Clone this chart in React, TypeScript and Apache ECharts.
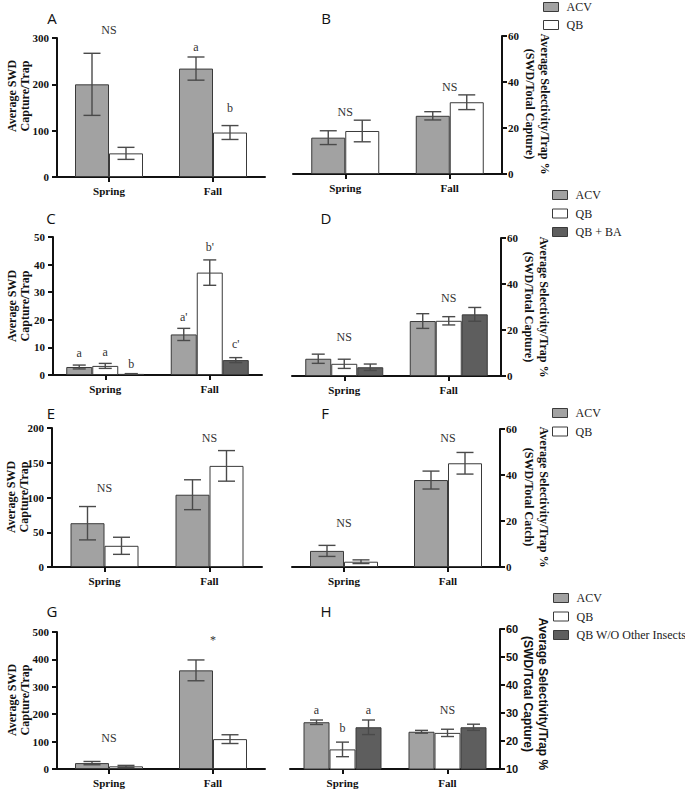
import React, { useEffect, useRef } from 'react';
import * as echarts from 'echarts';

// ---------- DATA ----------
const seasons = ['Spring', 'Fall'];

// Panel A – Average SWD capture / trap
const aACV = [200, 234];
const aACVse = [67, 25];
const aQB = [51, 96];
const aQBse = [13, 15];
const aTicks = [0, 100, 200, 300];

// Panel B – selectivity %
const bACV = [15.8, 25.3];
const bACVse = [3.0, 1.8];
const bQB = [18.7, 31.2];
const bQBse = [4.7, 3.2];
const bTicks = [0, 20, 40, 60];

// Panel C
const cACV = [2.9, 14.7];
const cACVse = [0.7, 2.2];
const cQB = [3.3, 37.1];
const cQBse = [0.9, 4.6];
const cBA = [0.4, 5.4];
const cBAse = [0.1, 0.9];
const cTicks = [0, 10, 20, 30, 40, 50];

// Panel D
const dACV = [7.5, 23.9];
const dACVse = [2.0, 3.2];
const dQB = [5.3, 24.0];
const dQBse = [2.0, 1.8];
const dBA = [3.8, 26.8];
const dBAse = [1.4, 3.0];
const dTicks = [0, 20, 40, 60];

// Panel E
const eACV = [63, 104];
const eACVse = [24, 21.5];
const eQB = [30.5, 145.5];
const eQBse = [12.3, 22];
const eTicks = [0, 50, 100, 150, 200];

// Panel F
const fACV = [7.0, 37.8];
const fACVse = [2.4, 3.9];
const fQB = [2.3, 45.1];
const fQBse = [0.8, 4.7];
const fTicks = [0, 20, 40, 60];

// Panel G
const gACV = [21.5, 360];
const gACVse = [6, 38];
const gQB = [9.7, 109];
const gQBse = [3.5, 16];
const gTicks = [0, 100, 200, 300, 400, 500];

// Panel H
const hACV = [26.7, 23.3];
const hACVse = [0.8, 0.5];
const hQB = [17.0, 22.9];
const hQBse = [2.6, 1.3];
const hWO = [24.9, 24.9];
const hWOse = [2.6, 1.1];
const hTicks = [10, 20, 30, 40, 50, 60];

// Annotations: category index, bar index (-1 = group centre), y value, label
const aNotes = [
  { cat: 0, bar: -1, y: 318, text: 'NS' },
  { cat: 1, bar: 0, y: 280, text: 'a' },
  { cat: 1, bar: 1, y: 149, text: 'b' },
];
const bNotes = [
  { cat: 0, bar: -1, y: 27, text: 'NS' },
  { cat: 1, bar: -1, y: 37.7, text: 'NS' },
];
const cNotes = [
  { cat: 0, bar: 0, y: 8.0, text: 'a' },
  { cat: 0, bar: 1, y: 8.4, text: 'a' },
  { cat: 0, bar: 2, y: 4.0, text: 'b' },
  { cat: 1, bar: 0, y: 21, text: "a'" },
  { cat: 1, bar: 1, y: 46.5, text: "b'" },
  { cat: 1, bar: 2, y: 11.3, text: "c'" },
];
const dNotes = [
  { cat: 0, bar: -1, y: 16.9, text: 'NS' },
  { cat: 1, bar: -1, y: 33.8, text: 'NS' },
];
const eNotes = [
  { cat: 0, bar: -1, y: 113.7, text: 'NS' },
  { cat: 1, bar: -1, y: 186, text: 'NS' },
];
const fNotes = [
  { cat: 0, bar: -1, y: 19, text: 'NS' },
  { cat: 1, bar: -1, y: 56, text: 'NS' },
];
const gNotes = [
  { cat: 0, bar: -1, y: 113.7, text: 'NS' },
  { cat: 1, bar: -1, y: 470, text: '*' },
];
const hNotes = [
  { cat: 0, bar: 0, y: 31.1, text: 'a' },
  { cat: 0, bar: 1, y: 24.7, text: 'b' },
  { cat: 0, bar: 2, y: 31.1, text: 'a' },
  { cat: 1, bar: -1, y: 31.1, text: 'NS' },
];

// ---------- STYLE ----------
const SERIF = "'Liberation Serif', 'Times New Roman', serif";
const SANS = "'Liberation Sans', Arial, sans-serif";
const COL_ACV = '#a2a2a2';
const COL_QB = '#ffffff';
const COL_DARK = '#5e5e5e';
const BORDER = '#3a3a3a';
const ERR = '#4a4a4a';
const AXIS = '#111111';

type Grp = { name: string; values: number[]; se: number[]; color: string };
type Panel = {
  grid: { left: number; top: number; width: number; height: number };
  side: 'left' | 'right';
  ticks: number[];
  groups: Grp[];
  barW: number;
  notes: { cat: number; bar: number; y: number; text: string }[];
  tickFont?: string;
};

const panels: Panel[] = [
  {
    grid: { left: 57, top: 38, width: 208, height: 139 }, side: 'left', ticks: aTicks, barW: 34,
    groups: [
      { name: 'ACV', values: aACV, se: aACVse, color: COL_ACV },
      { name: 'QB', values: aQB, se: aQBse, color: COL_QB },
    ], notes: aNotes,
  },
  {
    grid: { left: 293, top: 36, width: 209, height: 138 }, side: 'right', ticks: bTicks, barW: 34,
    groups: [
      { name: 'ACV', values: bACV, se: bACVse, color: COL_ACV },
      { name: 'QB', values: bQB, se: bQBse, color: COL_QB },
    ], notes: bNotes,
  },
  {
    grid: { left: 53, top: 237, width: 209, height: 138 }, side: 'left', ticks: cTicks, barW: 26,
    groups: [
      { name: 'ACV', values: cACV, se: cACVse, color: COL_ACV },
      { name: 'QB', values: cQB, se: cQBse, color: COL_QB },
      { name: 'QB + BA', values: cBA, se: cBAse, color: COL_DARK },
    ], notes: cNotes,
  },
  {
    grid: { left: 292, top: 238, width: 209, height: 138 }, side: 'right', ticks: dTicks, barW: 26,
    groups: [
      { name: 'ACV', values: dACV, se: dACVse, color: COL_ACV },
      { name: 'QB', values: dQB, se: dQBse, color: COL_QB },
      { name: 'QB + BA', values: dBA, se: dBAse, color: COL_DARK },
    ], notes: dNotes,
  },
  {
    grid: { left: 52, top: 428, width: 210, height: 139 }, side: 'left', ticks: eTicks, barW: 34,
    groups: [
      { name: 'ACV', values: eACV, se: eACVse, color: COL_ACV },
      { name: 'QB', values: eQB, se: eQBse, color: COL_QB },
    ], notes: eNotes,
  },
  {
    grid: { left: 292, top: 429, width: 208, height: 138 }, side: 'right', ticks: fTicks, barW: 34,
    groups: [
      { name: 'ACV', values: fACV, se: fACVse, color: COL_ACV },
      { name: 'QB', values: fQB, se: fQBse, color: COL_QB },
    ], notes: fNotes,
  },
  {
    grid: { left: 57, top: 632, width: 208, height: 137 }, side: 'left', ticks: gTicks, barW: 34,
    groups: [
      { name: 'ACV', values: gACV, se: gACVse, color: COL_ACV },
      { name: 'QB', values: gQB, se: gQBse, color: COL_QB },
    ], notes: gNotes,
  },
  {
    grid: { left: 290, top: 629, width: 210, height: 140 }, side: 'right', ticks: hTicks, barW: 26,
    groups: [
      { name: 'ACV', values: hACV, se: hACVse, color: COL_ACV },
      { name: 'QB', values: hQB, se: hQBse, color: COL_QB },
      { name: 'QB W/O Other Insects', values: hWO, se: hWOse, color: COL_DARK },
    ], notes: hNotes, tickFont: SANS,
  },
];

function buildOption() {
  const grid: any[] = [];
  const xAxis: any[] = [];
  const yAxis: any[] = [];
  const series: any[] = [];

  panels.forEach((p, gi) => {
    grid.push({ ...p.grid });
    xAxis.push({
      gridIndex: gi,
      type: 'category',
      data: seasons,
      axisLine: { show: true, lineStyle: { color: AXIS, width: 2 } },
      axisTick: { show: true, alignWithLabel: true, length: 5, lineStyle: { color: AXIS, width: 2 } },
      axisLabel: { fontFamily: SERIF, fontWeight: 'bold', fontSize: 11, color: '#111', margin: 8 },
      splitLine: { show: false },
    });
    const t = p.ticks;
    yAxis.push({
      gridIndex: gi,
      type: 'value',
      position: p.side,
      min: t[0],
      max: t[t.length - 1],
      interval: t[1] - t[0],
      axisLine: { show: true, lineStyle: { color: AXIS, width: 2 } },
      axisTick: { show: true, length: 5, lineStyle: { color: AXIS, width: 2 } },
      axisLabel: {
        fontFamily: p.tickFont || SERIF, fontWeight: 'bold', fontSize: 11, color: '#111',
        margin: p.side === 'left' ? 8 : 6,
      },
      splitLine: { show: false },
    });

    const n = p.groups.length;
    p.groups.forEach((g) => {
      series.push({
        type: 'bar',
        name: g.name,
        xAxisIndex: gi,
        yAxisIndex: gi,
        data: g.values,
        barWidth: p.barW,
        barGap: '0%',
        itemStyle: { color: g.color, borderColor: BORDER, borderWidth: 1 },
        silent: true,
        z: 2,
      });
    });
    p.groups.forEach((g, bi) => {
      const off = (bi - (n - 1) / 2) * p.barW;
      const cw = p.barW / 2;
      series.push({
        type: 'custom',
        name: g.name + ' err',
        xAxisIndex: gi,
        yAxisIndex: gi,
        silent: true,
        z: 5,
        data: g.values.map((v, i) => [i, v - g.se[i], v + g.se[i]]),
        encode: { x: 0, y: [1, 2] },
        renderItem: (_params: any, api: any) => {
          const lo = api.coord([api.value(0), api.value(1)]);
          const hi = api.coord([api.value(0), api.value(2)]);
          const x = lo[0] + off;
          const style = { stroke: ERR, lineWidth: 1.4 };
          return {
            type: 'group',
            children: [
              { type: 'line', shape: { x1: x, y1: lo[1], x2: x, y2: hi[1] }, style },
              { type: 'line', shape: { x1: x - cw / 2, y1: lo[1], x2: x + cw / 2, y2: lo[1] }, style },
              { type: 'line', shape: { x1: x - cw / 2, y1: hi[1], x2: x + cw / 2, y2: hi[1] }, style },
            ],
          };
        },
      });
    });
    // annotations
    const notes = p.notes;
    series.push({
      type: 'custom',
      name: 'notes' + gi,
      xAxisIndex: gi,
      yAxisIndex: gi,
      silent: true,
      z: 6,
      data: notes.map((a) => [a.cat, a.y]),
      encode: { x: 0, y: 1 },
      renderItem: (params: any, api: any) => {
        const a = notes[params.dataIndex];
        const pt = api.coord([api.value(0), api.value(1)]);
        const off = a.bar < 0 ? 0 : (a.bar - (n - 1) / 2) * p.barW;
        return {
          type: 'text',
          x: pt[0] + off,
          y: pt[1],
          style: {
            text: a.text,
            fontFamily: SERIF,
            fontSize: 12,
            fill: '#333',
            align: 'center',
            verticalAlign: 'middle',
          },
        };
      },
    });
  });

  const legendBase = {
    orient: 'vertical',
    icon: 'rect',
    itemWidth: 15,
    itemHeight: 9,
    padding: 0,
    selectedMode: false,
    itemStyle: { borderColor: BORDER, borderWidth: 1 },
    textStyle: { fontFamily: SERIF, fontSize: 12, color: '#222', padding: [0, 0, 0, 3] },
  };
  const legend = [
    { ...legendBase, data: ['ACV', 'QB'], left: 543, top: 1, itemGap: 6 },
    { ...legendBase, data: ['ACV', 'QB', 'QB + BA'], left: 552, top: 189, itemGap: 6.5 },
    { ...legendBase, data: ['ACV', 'QB'], left: 552, top: 407, itemGap: 6.5 },
    { ...legendBase, data: ['ACV', 'QB', 'QB W/O Other Insects'], left: 553, top: 592, itemGap: 6.5 },
  ];

  const letter = (t: string, x: number, y: number) => ({
    type: 'text', x, y,
    style: { text: t, fontFamily: "'Open Sans', sans-serif", fontSize: 15, fill: '#111', align: 'center', verticalAlign: 'middle' },
  });
  const leftName = (x: number, y: number) => ({
    type: 'text', x, y, rotation: Math.PI / 2,
    style: {
      text: 'Average SWD\nCapture/Trap', fontFamily: SERIF, fontWeight: 'bold', fontSize: 12, lineHeight: 13,
      fill: '#111', align: 'center', verticalAlign: 'middle',
    },
  });
  const rightName = (x: number, y: number, second: string, font: string) => ({
    type: 'text', x, y, rotation: -Math.PI / 2,
    style: {
      text: 'Average Selectivity/Trap %\n' + second, fontFamily: font, fontWeight: 'bold', fontSize: 12, lineHeight: 15,
      fill: '#111', align: 'center', verticalAlign: 'middle',
    },
  });

  const graphic = [
    letter('A', 52, 18), letter('B', 326, 18),
    letter('C', 51, 218), letter('D', 326, 218),
    letter('E', 51, 413), letter('F', 325, 413),
    letter('G', 52, 611), letter('H', 326, 611),
    leftName(18.5, 96), leftName(18.5, 306), leftName(17, 497), leftName(18.5, 700),
    rightName(537, 104, '(SWD/Total Capture)', SERIF),
    rightName(536.5, 307, '(SWD/Total Capture)', SERIF),
    rightName(536, 497, '(SWD/Total Catch)', SERIF),
    rightName(535, 694, '(SWD/Total Capture)', SANS),
  ];

  return {
    animation: false,
    backgroundColor: '#ffffff',
    grid,
    xAxis,
    yAxis,
    series,
    legend,
    graphic,
  };
}

export default function App() {
  const ref = useRef<HTMLDivElement>(null);
  useEffect(() => {
    if (!ref.current) return;
    const chart = echarts.init(ref.current, undefined, { renderer: 'svg' });
    chart.setOption(buildOption() as any);
    return () => chart.dispose();
  }, []);
  return (
    <div
      ref={ref}
      style={{ position: 'absolute', left: 0, top: 0, width: 685, height: 791, background: '#fff' }}
    />
  );
}
